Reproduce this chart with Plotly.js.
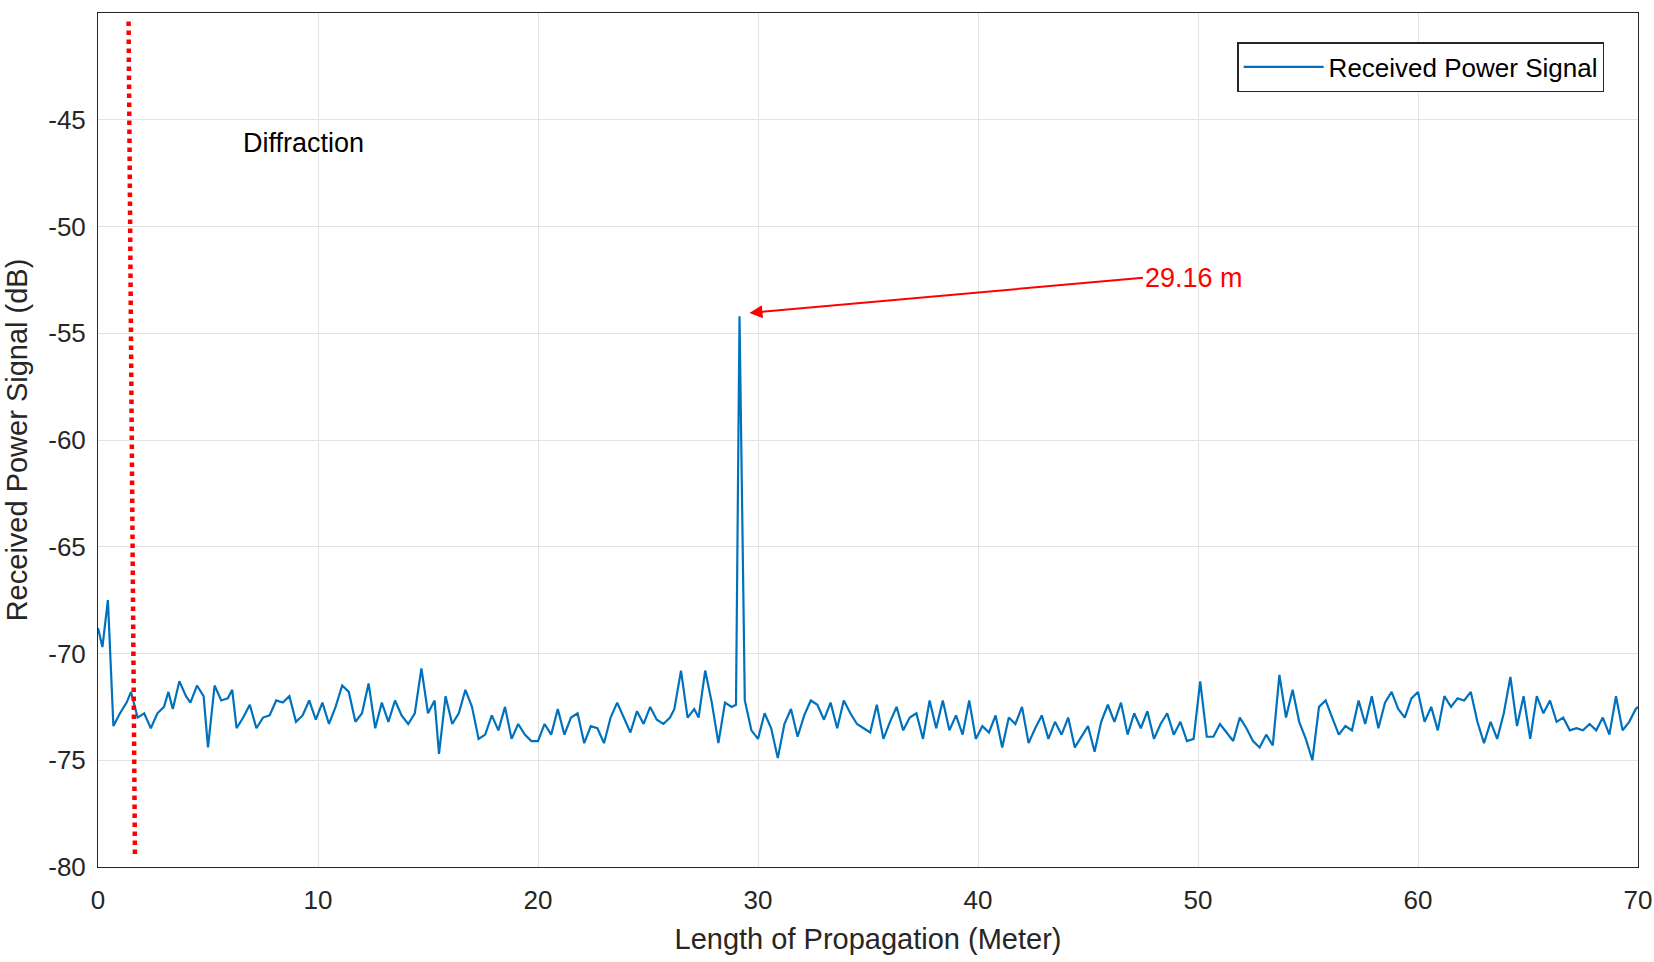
<!DOCTYPE html>
<html>
<head>
<meta charset="utf-8">
<script src="https://cdn.plot.ly/plotly-3.0.1.min.js"></script>
<style>html,body{margin:0;padding:0;background:#fff}</style>
</head>
<body>
<div id="plotdiv" style="width:1654px;height:962px"></div>
<script>
'use strict'

// distance along propagation path (m) and received power (dB)
const distanceM = [
  0, 0.2, 0.45, 0.7, 1.0, 1.3, 1.5, 1.8, 2.1, 2.4, 2.7, 3.0, 3.2, 3.4, 3.7, 4.0, 4.2, 4.5, 4.8, 5.0,
  5.3, 5.6, 5.9, 6.1, 6.3, 6.6, 6.9, 7.2, 7.5, 7.8, 8.1, 8.4, 8.7, 9.0, 9.3, 9.6, 9.9, 10.2, 10.5, 10.8,
  11.1, 11.4, 11.7, 12.0, 12.3, 12.6, 12.9, 13.2, 13.5, 13.8, 14.1, 14.4, 14.7, 15.0, 15.3, 15.5, 15.8, 16.1, 16.4, 16.7,
  17.0, 17.3, 17.6, 17.9, 18.2, 18.5, 18.8, 19.1, 19.4, 19.7, 20.0, 20.3, 20.6, 20.9, 21.2, 21.5, 21.8, 22.1, 22.4, 22.7,
  23.0, 23.3, 23.6, 23.9, 24.2, 24.5, 24.8, 25.1, 25.4, 25.7, 26.0, 26.2, 26.5, 26.8, 27.1, 27.3, 27.6, 27.9, 28.2, 28.5,
  28.8, 29.0, 29.16, 29.4, 29.7, 30.0, 30.3, 30.6, 30.9, 31.2, 31.5, 31.8, 32.1, 32.4, 32.7, 33.0, 33.3, 33.6, 33.9, 34.2,
  34.5, 34.8, 35.1, 35.4, 35.7, 36.0, 36.3, 36.6, 36.9, 37.2, 37.5, 37.8, 38.1, 38.4, 38.7, 39.0, 39.3, 39.6, 39.9, 40.2,
  40.5, 40.8, 41.1, 41.4, 41.7, 42.0, 42.3, 42.6, 42.9, 43.2, 43.5, 43.8, 44.1, 44.4, 44.7, 45.0, 45.3, 45.6, 45.9, 46.2,
  46.5, 46.8, 47.1, 47.4, 47.7, 48.0, 48.3, 48.6, 48.9, 49.2, 49.5, 49.8, 50.1, 50.4, 50.7, 51.0, 51.3, 51.6, 51.9, 52.2,
  52.5, 52.8, 53.1, 53.4, 53.7, 54.0, 54.3, 54.6, 54.9, 55.2, 55.5, 55.8, 56.1, 56.4, 56.7, 57.0, 57.3, 57.6, 57.9, 58.2,
  58.5, 58.8, 59.1, 59.4, 59.7, 60.0, 60.3, 60.6, 60.9, 61.2, 61.5, 61.8, 62.1, 62.4, 62.7, 63.0, 63.3, 63.6, 63.9, 64.2,
  64.5, 64.8, 65.1, 65.4, 65.7, 66.0, 66.3, 66.6, 66.9, 67.2, 67.5, 67.8, 68.1, 68.4, 68.7, 69.0, 69.3, 69.6, 69.9, 70.0
]
const powerDb = [
  -68.8, -69.7, -67.5, -73.4, -72.8, -72.3, -71.8, -73.0, -72.8, -73.5, -72.8, -72.5, -71.8, -72.6, -71.3, -72.0, -72.3, -71.5, -72.0, -74.4,
  -71.5, -72.2, -72.1, -71.7, -73.5, -73.0, -72.4, -73.5, -73.0, -72.9, -72.2, -72.3, -72.0, -73.2, -72.9, -72.2, -73.1, -72.3, -73.3, -72.5,
  -71.5, -71.8, -73.2, -72.8, -71.4, -73.5, -72.3, -73.2, -72.2, -72.9, -73.3, -72.8, -70.7, -72.8, -72.2, -74.7, -72.0, -73.3, -72.8, -71.7,
  -72.5, -74.0, -73.8, -72.9, -73.6, -72.5, -74.0, -73.3, -73.8, -74.1, -74.1, -73.3, -73.8, -72.6, -73.8, -73.0, -72.8, -74.2, -73.4, -73.5,
  -74.2, -73.0, -72.3, -73.0, -73.7, -72.7, -73.3, -72.5, -73.1, -73.3, -73.0, -72.6, -70.8, -73.0, -72.6, -73.0, -70.8, -72.3, -74.2, -72.3,
  -72.5, -72.4, -54.2, -72.2, -73.6, -74.0, -72.8, -73.5, -74.9, -73.3, -72.6, -73.9, -72.9, -72.2, -72.4, -73.1, -72.3, -73.5, -72.2, -72.8,
  -73.3, -73.5, -73.7, -72.4, -74.0, -73.2, -72.5, -73.6, -73.0, -72.8, -74.0, -72.2, -73.5, -72.2, -73.6, -72.9, -73.8, -72.2, -74.0, -73.4,
  -73.7, -72.9, -74.4, -73.0, -73.3, -72.5, -74.2, -73.5, -72.9, -74.0, -73.2, -73.8, -73.0, -74.4, -73.9, -73.4, -74.6, -73.2, -72.4, -73.2,
  -72.3, -73.8, -72.8, -73.5, -72.7, -74.0, -73.3, -72.8, -73.8, -73.2, -74.1, -74.0, -71.3, -73.9, -73.9, -73.3, -73.7, -74.1, -73.0, -73.5,
  -74.1, -74.4, -73.8, -74.3, -71.0, -73.0, -71.7, -73.2, -74.0, -75.0, -72.5, -72.2, -73.0, -73.8, -73.4, -73.6, -72.2, -73.3, -72.0, -73.5,
  -72.3, -71.8, -72.6, -73.0, -72.1, -71.8, -73.2, -72.5, -73.6, -72.0, -72.5, -72.1, -72.2, -71.8, -73.2, -74.2, -73.2, -74.0, -72.8, -71.1,
  -73.4, -72.0, -74.0, -72.0, -72.8, -72.2, -73.2, -73.0, -73.6, -73.5, -73.6, -73.3, -73.6, -73.0, -73.8, -72.0, -73.6, -73.2, -72.6, -72.5
]
const yTicks = [-80, -75, -70, -65, -60, -55, -50, -45, -40]
const yTickText = ['-80', '-75', '-70', '-65', '-60', '-55', '-50', '-45', '-40']
// red dotted boundary line (x at top and bottom), y extent
const boundaryX = [1.39, 1.68]
const boundaryY = [-40.4, -79.5]
const peakX = 29.16
const peakY = -54.2

const axisFont = {family: 'Arial, Liberation Sans, sans-serif', size: 26, color: '#262626'}

const traces = [
  {
    x: distanceM, y: powerDb, mode: 'lines', name: 'Received Power Signal',
    line: {color: '#0072BD', width: 2.2}
  },
  {
    x: boundaryX, y: boundaryY, mode: 'lines', showlegend: false,
    line: {color: '#FF0000', width: 4.5, dash: 'dot'}, hoverinfo: 'skip'
  }
]

const axisCommon = {
  showgrid: true, gridcolor: '#e3e3e3', gridwidth: 1,
  zeroline: false, showline: true, linecolor: '#262626', linewidth: 1, mirror: true,
  ticks: '', tickfont: axisFont
}

const layout = {
  width: 1654, height: 962,
  margin: {l: 98, r: 16, t: 13, b: 95},
  paper_bgcolor: '#fff', plot_bgcolor: '#fff',
  font: axisFont,
  xaxis: Object.assign({}, axisCommon, {
    range: [0, 70], dtick: 10, ticklabelstandoff: 10,
    title: {text: 'Length of Propagation (Meter)', font: {family: axisFont.family, size: 29, color: '#262626'}, standoff: 14}
  }),
  yaxis: Object.assign({}, axisCommon, {
    range: [-80, -40], tickvals: yTicks, ticktext: yTickText, ticklabelstandoff: 6,
    title: {text: 'Received Power Signal (dB)', font: {family: axisFont.family, size: 29, color: '#262626'}, standoff: 12}
  }),
  showlegend: true,
  legend: {
    x: 0.978, xanchor: 'right', y: 0.966, yanchor: 'top',
    bgcolor: '#fff', bordercolor: '#262626', borderwidth: 1.5,
    itemwidth: 80,
    font: {family: axisFont.family, size: 26, color: '#000'}
  },
  annotations: [
    {
      x: 6.5, y: -46.1, xanchor: 'left', text: 'Diffraction', showarrow: false,
      font: {family: axisFont.family, size: 27, color: '#000'}
    },
    {
      x: peakX + 0.45, y: peakY + 0.15, ax: 47.5, ay: -52.4, axref: 'x', ayref: 'y',
      text: '29.16 m', showarrow: true, arrowhead: 2, arrowsize: 1.3, arrowwidth: 2,
      arrowcolor: '#FF0000', xanchor: 'left',
      font: {family: axisFont.family, size: 27, color: '#FF0000'}
    }
  ]
}

Plotly.newPlot('plotdiv', traces, layout, {displayModeBar: false, staticPlot: true})
</script>
</body>
</html>
